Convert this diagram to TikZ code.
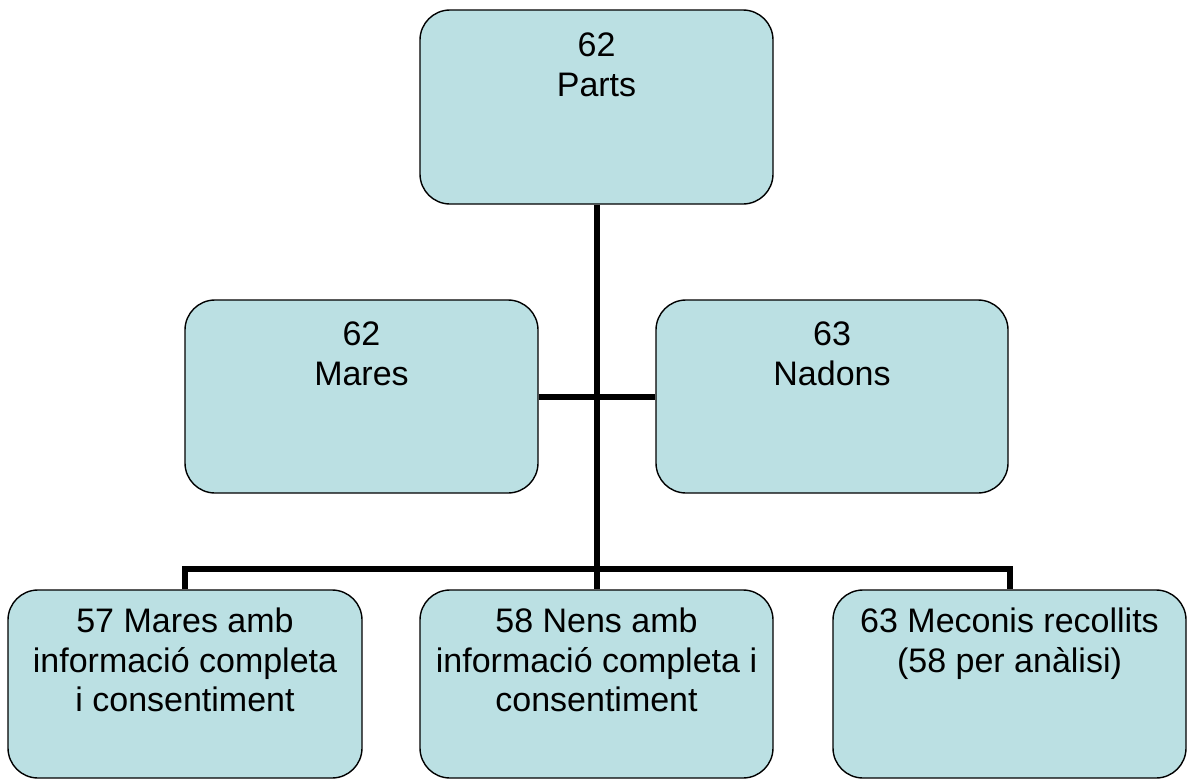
\documentclass[tikz,border=0pt]{standalone}
\usepackage{fontspec}
\setmainfont{Liberation Sans}
\definecolor{boxfill}{RGB}{187,224,227}
\begin{document}
\begin{tikzpicture}[x=1pt,y=-1pt,
  box/.style={draw=black, line width=1.4pt, fill=boxfill, rounded corners=30pt, inner sep=0pt},
  txt/.style={anchor=north, align=center, inner sep=0pt, font=\fontsize{34}{39.5}\selectfont},
  conn/.style={draw=black, line width=6pt}]
\useasboundingbox (0,0) rectangle (1188,779);
% boxes
\node[box, minimum width=353pt, minimum height=194pt] (top) at (596.5,107) {};
\node[box, minimum width=353pt, minimum height=193pt] (ml) at (361.5,396.5) {};
\node[box, minimum width=352pt, minimum height=193pt] (mr) at (832,396.5) {};
\node[box, minimum width=354pt, minimum height=188pt] (bl) at (185,684) {};
\node[box, minimum width=353pt, minimum height=188pt] (bm) at (596.5,684) {};
\node[box, minimum width=353pt, minimum height=188pt] (br) at (1009.5,684) {};
% texts
\node[txt] (topt) at (596.5,33) {62\\Parts};
\node[txt] (mlt) at (361.5,322) {62\\Mares};
\node[txt] (mrt) at (832,322) {63\\Nadons};
\node[txt] (blt) at (185,608) {57 Mares amb\\informació completa\\i consentiment};
\node[txt] (bmt) at (596.5,608) {58 Nens amb\\informació completa i\\consentiment};
\node[txt] (brt) at (1009.5,608) {63 Meconis recollits\\(58 per anàlisi)};
% connectors
\coordinate (lj) at (185,569);
\coordinate (rj) at (1009.5,569);
\draw[conn] (top.south) -- (bm.north);
\draw[conn] (ml.east |- 0,397) -- (mr.west |- 0,397);
\draw[conn] (bl.north) -- (lj) -- (rj) -- (br.north);
\end{tikzpicture}
\end{document}
